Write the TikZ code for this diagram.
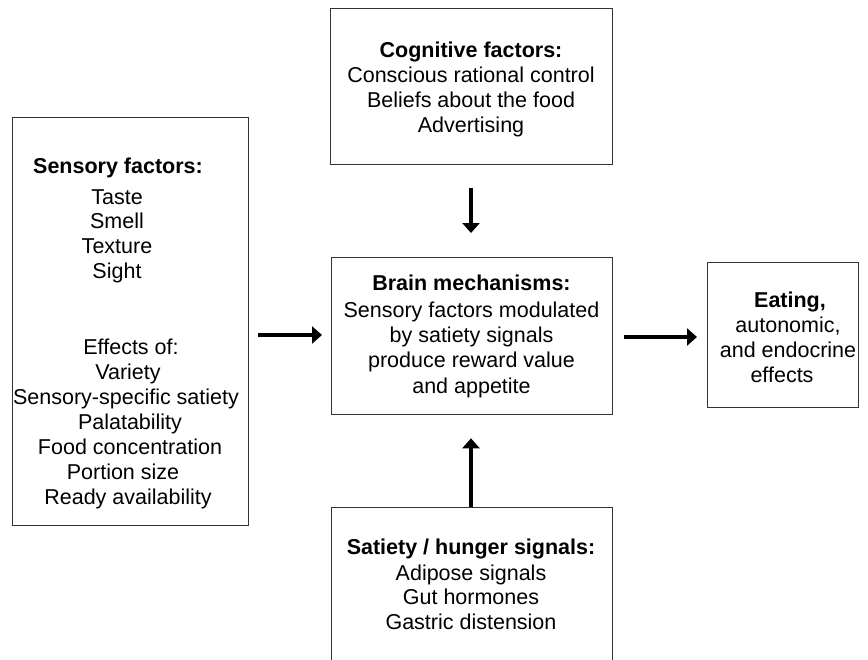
\documentclass[tikz,border=0pt]{standalone}
\usepackage{fontspec}
\setmainfont{Liberation Sans}
\usetikzlibrary{arrows.meta}
\begin{document}
\begin{tikzpicture}[x=1bp,y=-1bp,
  box/.style={draw=black!80, line width=1.3bp, inner sep=0, anchor=north west},
  txt/.style={inner sep=0, text height=15.4bp, text depth=0bp, font=\fontsize{21.5bp}{25bp}\selectfont},
  hd/.style={txt, font=\fontsize{21.5bp}{25bp}\selectfont\bfseries},
  arr/.style={line width=3.2bp, -{Triangle[length=10bp,width=17bp]}}]
\clip (0,0) rectangle (868,660);
\fill[white] (0,0) rectangle (868,660);
% boxes
\node[box, minimum width=282bp, minimum height=156bp] (cog) at (330,8) {};
\node[box, minimum width=236bp, minimum height=408bp] (sens) at (12,117) {};
\node[box, minimum width=281bp, minimum height=157bp] (brain) at (331,257) {};
\node[box, minimum width=151bp, minimum height=145bp] (eat) at (707,262) {};
\node[box, minimum width=281bp, minimum height=200bp] (sat) at (331,507) {};
% cognitive
\node[hd] (c0) at (471,50) {Cognitive factors:};
\node[txt] (c1) at (471,75) {Conscious rational control};
\node[txt] (c2) at (471,100) {Beliefs about the food};
\node[txt] (c3) at (471,125) {Advertising};
% sensory
\node[hd] (s0) at (118,166) {Sensory factors:};
\node[txt] (s1) at (117,197) {Taste};
\node[txt] (s2) at (117,221) {Smell};
\node[txt] (s3) at (117,246) {Texture};
\node[txt] (s4) at (117,271) {Sight};
\node[txt] (s5) at (131,347) {Effects of:};
\node[txt] (s6) at (128,372) {Variety};
\node[txt] (s7) at (126,397) {Sensory-specific satiety};
\node[txt] (s8) at (130,422) {Palatability};
\node[txt] (s9) at (130,447) {Food concentration};
\node[txt] (s10) at (123,472) {Portion size};
\node[txt] (s11) at (128,497) {Ready availability};
% brain
\node[hd] (b0) at (471.5,283) {Brain mechanisms:};
\node[txt] (b1) at (471.5,310) {Sensory factors modulated};
\node[txt] (b2) at (471.5,335) {by satiety signals};
\node[txt] (b3) at (471.5,360) {produce reward value};
\node[txt] (b4) at (471.5,386) {and appetite};
% eating
\node[hd] (e0) at (790,300) {Eating,};
\node[txt] (e1) at (788,325) {autonomic,};
\node[txt] (e2) at (788,350) {and endocrine};
\node[txt] (e3) at (782,375) {effects};
% satiety
\node[hd] (t0) at (471,547) {Satiety / hunger signals:};
\node[txt] (t1) at (471,573) {Adipose signals};
\node[txt] (t2) at (471,597) {Gut hormones};
\node[txt] (t3) at (471,622) {Gastric distension};
% arrows
\coordinate (ly) at (0,335);
\coordinate (ry) at (0,337);
\coordinate (vx) at (471,0);
\draw[arr, shorten <=23bp, shorten >=24bp] (cog.south -| vx) -- (brain.north -| vx);
\draw[arr, shorten >=23bp] (sat.north -| vx) -- (brain.south -| vx);
\draw[arr, shorten <=9bp, shorten >=9bp] (sens.east |- ly) -- (brain.west |- ly);
\draw[arr, shorten <=11bp, shorten >=10bp] (brain.east |- ry) -- (eat.west |- ry);
\end{tikzpicture}
\end{document}
